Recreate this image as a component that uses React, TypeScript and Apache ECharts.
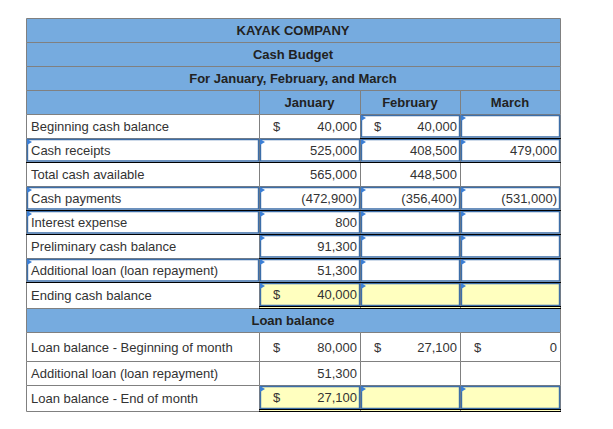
import React, { useEffect, useRef } from "react";
import * as echarts from "echarts";

const titles = ["KAYAK COMPANY", "Cash Budget", "For January, February, and March"];
const months = ["January", "February", "March"];

const cashLabels = [
  "Beginning cash balance",
  "Cash receipts",
  "Total cash available",
  "Cash payments",
  "Interest expense",
  "Preliminary cash balance",
  "Additional loan (loan repayment)",
  "Ending cash balance",
];
const cashJan: (number | null)[] = [40000, 525000, 565000, -472900, 800, 91300, 51300, 40000];
const cashFeb: (number | null)[] = [40000, 408500, 448500, -356400, null, null, null, null];
const cashMar: (number | null)[] = [null, 479000, null, -531000, null, null, null, null];
const cashDollarRows = [0, 7];

const loanTitle = "Loan balance";
const loanLabels = [
  "Loan balance - Beginning of month",
  "Additional loan (loan repayment)",
  "Loan balance - End of month",
];
const loanJan: (number | null)[] = [80000, 51300, 27100];
const loanFeb: (number | null)[] = [27100, null, null];
const loanMar: (number | null)[] = [0, null, null];
const loanDollarRows = [0, 2];

// styling / layout
const COLX = [26, 259, 360, 460, 560];
const BLUE = "#76abdf";
const YELLOW = "#ffffbf";
const GRID = "#808080";
const INPUT = "#3d6ea8";
const TRI = "#3b7fd6";
const FONT = "13px 'Liberation Sans', Arial, sans-serif";
const BFONT = "bold 13px 'Liberation Sans', Arial, sans-serif";
const TXT = "#333333";

const cashLabelInput = [false, true, false, true, true, false, true, false];
const cashValInput = [
  [false, true, true],
  [true, true, true],
  [false, false, false],
  [true, true, true],
  [true, true, true],
  [true, true, true],
  [true, true, true],
  [true, true, true],
];
const cashYellow = [false, false, false, false, false, false, false, true];
const loanValInput = [
  [false, false, false],
  [false, false, false],
  [true, true, true],
];
const loanYellow = [false, false, true];

function fmt(v: number | null): string {
  if (v === null) return "";
  const s = Math.abs(v).toLocaleString("en-US");
  return v < 0 ? "(" + s + ")" : s;
}

function buildGraphics() {
  const els: any[] = [];
  const cell = (x: number, y: number, w: number, h: number, fill: string) => {
    els.push({
      type: "rect",
      z: 1,
      shape: { x: x + 0.5, y: y + 0.5, width: w, height: h },
      style: { fill, stroke: GRID, lineWidth: 1 },
    });
  };
  const text = (t: string, x: number, y: number, align: string, bold = false) => {
    if (!t) return;
    els.push({
      type: "text",
      z: 10,
      style: {
        text: t,
        x,
        y,
        font: bold ? BFONT : FONT,
        fill: bold ? "#222222" : TXT,
        align,
        verticalAlign: "middle",
        textAlign: align,
        textVerticalAlign: "middle",
      },
    });
  };
  const input = (x: number, y: number, w: number, h: number, double: boolean) => {
    els.push({
      type: "rect",
      z: 5,
      shape: { x: x + 1.5, y: y + 1.5, width: w - 2, height: h - (double ? 4 : 2.5) },
      style: { fill: "none", stroke: INPUT, lineWidth: 1.4 },
    });
    els.push({
      type: "line",
      z: 6,
      shape: { x1: x, y1: y + h + 0.5 - (double ? 2 : 0), x2: x + w + 1, y2: y + h + 0.5 - (double ? 2 : 0) },
      style: { stroke: "#000", lineWidth: 1 },
    });
    if (double) {
      els.push({
        type: "line",
        z: 6,
        shape: { x1: x, y1: y + h + 0.5, x2: x + w + 1, y2: y + h + 0.5 },
        style: { stroke: "#000", lineWidth: 1 },
      });
    }
    els.push({
      type: "polygon",
      z: 7,
      shape: { points: [[x + 1, y + 1], [x + 6, y + 4], [x + 1, y + 7]] },
      style: { fill: TRI },
    });
  };

  const full = COLX[4] - COLX[0];
  // title rows
  const titleTops = [18, 42, 66];
  titleTops.forEach((t, i) => {
    cell(COLX[0], t, full, 24, BLUE);
    text(titles[i], (COLX[0] + COLX[4]) / 2, t + 12.5, "center", true);
  });
  // month row
  for (let c = 0; c < 4; c++) {
    cell(COLX[c], 90, COLX[c + 1] - COLX[c], 24, BLUE);
    if (c > 0) text(months[c - 1], (COLX[c] + COLX[c + 1]) / 2, 102.5, "center", true);
  }

  const drawRows = (
    tops: number[],
    heights: number[],
    labels: string[],
    cols: (number | null)[][],
    dollarRows: number[],
    labelInput: boolean[],
    valInput: boolean[][],
    yellow: boolean[]
  ) => {
    tops.forEach((t, r) => {
      const h = heights[r];
      cell(COLX[0], t, COLX[1] - COLX[0], h, "#ffffff");
      if (labelInput[r]) input(COLX[0], t, COLX[1] - COLX[0], h, false);
      text(labels[r], COLX[0] + 5, t + h / 2 + 0.5, "left");
      for (let c = 0; c < 3; c++) {
        const x = COLX[c + 1];
        const w = COLX[c + 2] - x;
        cell(x, t, w, h, yellow[r] ? YELLOW : "#ffffff");
        if (valInput[r][c]) input(x, t, w, h, yellow[r]);
        const v = cols[c][r];
        const ty = t + h / 2 + 0.5 - (yellow[r] ? 1 : 0);
        text(fmt(v), x + w - 3, ty, "right");
        if (v !== null && dollarRows.includes(r)) text("$", x + 14, ty, "left");
      }
    });
  };

  drawRows(
    [114, 138, 162, 186, 210, 234, 258, 282],
    [24, 24, 24, 24, 24, 24, 24, 26],
    cashLabels,
    [cashJan, cashFeb, cashMar],
    cashDollarRows,
    cashLabelInput,
    cashValInput,
    cashYellow
  );

  cell(COLX[0], 308, full, 24, BLUE);
  text(loanTitle, (COLX[0] + COLX[4]) / 2, 320.5, "center", true);

  drawRows(
    [332, 361, 385],
    [29, 24, 26],
    loanLabels,
    [loanJan, loanFeb, loanMar],
    loanDollarRows,
    [false, false, false],
    loanValInput,
    loanYellow
  );
  return els;
}

export default function App() {
  const ref = useRef<HTMLDivElement>(null);
  useEffect(() => {
    if (!ref.current) return;
    const chart = echarts.init(ref.current, undefined, { renderer: "svg" });
    chart.setOption({
      animation: false,
      backgroundColor: "#ffffff",
      graphic: { elements: buildGraphics() },
    });
    return () => chart.dispose();
  }, []);
  return (
    <div
      ref={ref}
      style={{ position: "fixed", left: 0, top: 0, width: 613, height: 429, background: "#fff" }}
    />
  );
}
